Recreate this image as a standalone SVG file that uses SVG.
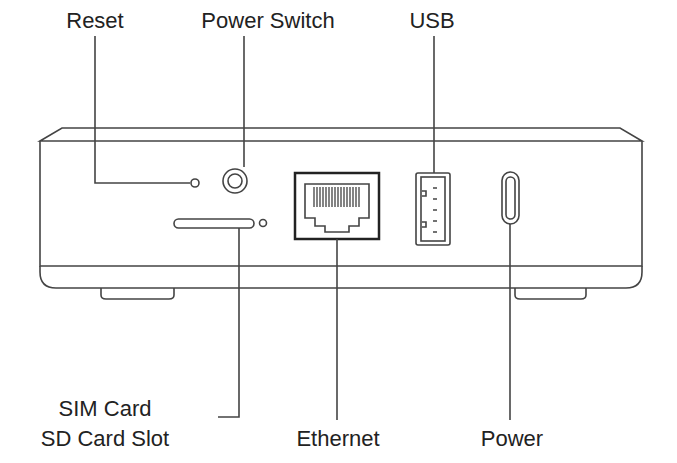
<svg xmlns="http://www.w3.org/2000/svg" width="677" height="463" viewBox="0 0 677 463">
<style>
.s{fill:none;stroke:#444;stroke-width:1.6}
.t{font-family:"Liberation Sans",Arial,sans-serif;font-size:22px;fill:#222;text-anchor:middle}
</style>
<rect width="677" height="463" fill="#fff"/>
<g id="device">
<path class="s" d="M40,141 L62,128 L620,128 L642,141 Z"/>
<path class="s" d="M40,141 L40,266 L642,266 L642,141"/>
<path class="s" d="M40,266 L40,272 Q40,288 56,288 L626,288 Q642,288 642,272 L642,266"/>
<path class="s" d="M101,288 L101,295 Q101,299 106,299 L169,299 Q174,299 174,295 L174,288"/>
<path class="s" d="M515,288 L515,295 Q515,299 520,299 L581,299 Q586,299 586,295 L586,288"/>
</g>
<g id="reset"><circle class="s" cx="195" cy="183" r="4"/></g>
<g id="power-switch"><circle class="s" cx="235" cy="181" r="12"/><circle class="s" cx="235" cy="181" r="7"/></g>
<g id="sd-slot"><rect class="s" x="174" y="219" width="80" height="9" rx="4.5"/><circle class="s" cx="263" cy="223" r="3.5"/></g>
<g id="ethernet">
<rect x="295" y="173" width="84" height="66" fill="none" stroke="#222" stroke-width="2.5"/>
<path class="s" d="M305,184 L369,184 L369,218 L359,218 L359,226 L349,226 L349,232 L325,232 L325,226 L315,226 L315,218 L305,218 Z"/>
<g stroke="#333" stroke-width="1.2">
<path d="M314,187V207M317,187V207M320,187V207M323,187V207M326,187V207M329,187V207M332,187V207M335,187V207M338,187V207M341,187V207M344,187V207M347,187V207M350,187V207M353,187V207M356,187V207M359,187V207"/>
</g>
</g>
<g id="usb">
<rect class="s" x="416" y="173" width="34" height="72" rx="2"/>
<rect class="s" x="421" y="177" width="24" height="64"/>
<path class="s" d="M422,191h4v5h-4M422,222h4v5h-4M433,188h4M433,199h4M433,210h4M433,221h4M433,232h4"/>
</g>
<g id="usb-c"><rect class="s" x="502" y="172" width="17" height="52" rx="8.5"/><rect class="s" x="506" y="177" width="9" height="42" rx="4.5"/></g>
<g id="connectors" class="s">
<path d="M95,36 L95,183 L190,183"/>
<path d="M244,36 L244,167"/>
<path d="M434,36 L434,173"/>
<path d="M239,228 L239,417 L218,417"/>
<path d="M337,239 L337,420"/>
<path d="M510,224 L510,420"/>
</g>
<g id="labels">
<text class="t" x="95" y="28">Reset</text>
<text class="t" x="268" y="28">Power Switch</text>
<text class="t" x="432" y="28">USB</text>
<text class="t" x="105" y="416">SIM Card</text>
<text class="t" x="105" y="446">SD Card Slot</text>
<text class="t" x="338" y="446">Ethernet</text>
<text class="t" x="512" y="446">Power</text>
</g>
</svg>
